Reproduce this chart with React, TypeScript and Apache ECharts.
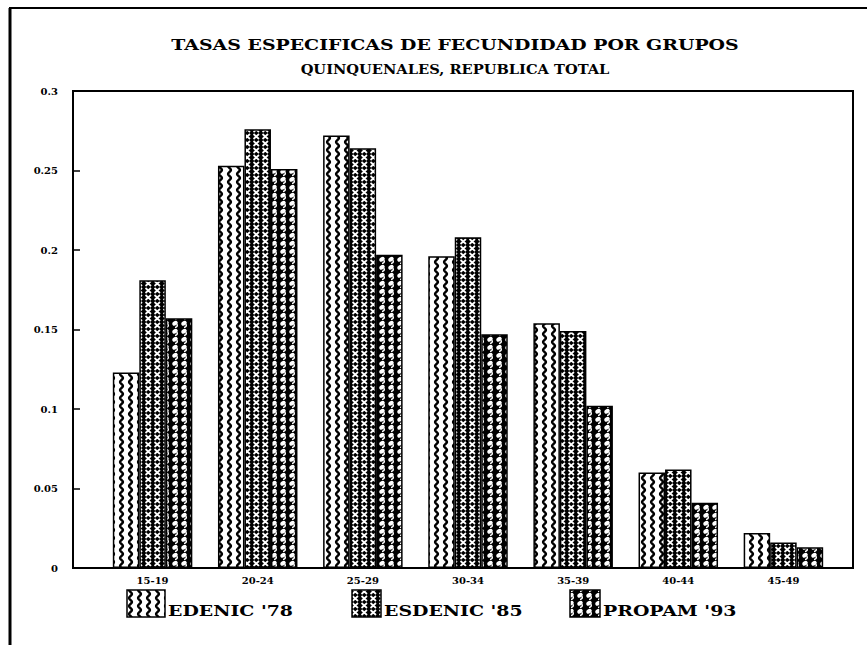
import React, { useEffect, useRef } from 'react';
import * as echarts from 'echarts';

const categories = ['15-19', '20-24', '25-29', '30-34', '35-39', '40-44', '45-49'];
const edenic78 = [0.123, 0.253, 0.272, 0.196, 0.154, 0.06, 0.022];
const esdenic85 = [0.181, 0.276, 0.264, 0.208, 0.149, 0.062, 0.016];
const propam93 = [0.157, 0.251, 0.197, 0.147, 0.102, 0.041, 0.013];
const seriesNames = ["EDENIC '78", "ESDENIC '85", "PROPAM '93"];
const titleText = 'TASAS ESPECIFICAS DE FECUNDIDAD POR GRUPOS';
const subtitleText = 'QUINQUENALES, REPUBLICA TOTAL';
const yMin = 0;
const yMax = 0.3;
const yStep = 0.05;

const FONT = '"DejaVu Serif", "Liberation Serif", serif';

function makeTile(w: number, h: number, draw: (ctx: CanvasRenderingContext2D) => void) {
  const c = document.createElement('canvas');
  c.width = w;
  c.height = h;
  const ctx = c.getContext('2d') as CanvasRenderingContext2D;
  draw(ctx);
  return { image: c, repeat: 'repeat', imageWidth: w, imageHeight: h } as any;
}

function makePatterns() {
  const wavy = makeTile(9, 8, (ctx) => {
    ctx.fillStyle = '#fff';
    ctx.fillRect(0, 0, 9, 8);
    ctx.strokeStyle = '#000';
    ctx.lineWidth = 2.4;
    ctx.beginPath();
    for (let y = -1; y <= 9; y += 0.5) {
      const x = 4.5 + 1.4 * Math.sin((2 * Math.PI * y) / 8);
      if (y === -1) ctx.moveTo(x, y);
      else ctx.lineTo(x, y);
    }
    ctx.stroke();
  });
  const crosses = makeTile(9, 7, (ctx) => {
    ctx.fillStyle = '#000';
    ctx.fillRect(0, 0, 9, 7);
    ctx.strokeStyle = '#fff';
    ctx.lineWidth = 1.7;
    ctx.beginPath();
    ctx.moveTo(1.5, 1);
    ctx.lineTo(7, 6);
    ctx.moveTo(7, 1);
    ctx.lineTo(1.5, 6);
    ctx.stroke();
  });
  const blobs = makeTile(9, 8, (ctx) => {
    ctx.fillStyle = '#000';
    ctx.fillRect(0, 0, 9, 8);
    ctx.fillStyle = '#fff';
    ctx.beginPath();
    ctx.ellipse(4, 3.3, 2.9, 2.1, -0.6, 0, Math.PI * 2);
    ctx.fill();
    ctx.strokeStyle = '#fff';
    ctx.lineWidth = 1.5;
    ctx.beginPath();
    ctx.moveTo(6, 4.3);
    ctx.quadraticCurveTo(7, 7, 4, 7.4);
    ctx.stroke();
  });
  return [wavy, crosses, blobs];
}

export default function App() {
  const ref = useRef<HTMLDivElement>(null);

  useEffect(() => {
    if (!ref.current) return;
    const chart = echarts.init(ref.current, null, { renderer: 'svg' });
    const patterns = makePatterns();
    const seriesData = [edenic78, esdenic85, propam93];

    const legendX = [127, 352, 570];
    const legendW = [38, 29, 30];
    const legendGraphics: any[] = [];
    seriesNames.forEach((name, i) => {
      legendGraphics.push({
        type: 'rect',
        shape: { x: legendX[i], y: 590, width: legendW[i], height: 27 },
        style: { fill: patterns[i], stroke: '#000', lineWidth: 1.5 },
      });
      legendGraphics.push({
        type: 'text',
        x: legendX[i] + legendW[i] + 3,
        y: 611,
        scaleX: 1.35,
        style: {
          text: name,
          font: `bold 14px ${FONT}`,
          fill: '#000',
          textAlign: 'left',
          textVerticalAlign: 'middle',
          align: 'left',
          verticalAlign: 'middle',
        },
      });
    });

    chart.setOption({
      animation: false,
      backgroundColor: '#fff',
      grid: [
        { left: 73, right: 14, top: 91, bottom: 77, show: true, borderColor: '#000', borderWidth: 2, backgroundColor: 'transparent' },
        { left: 100, right: 31, top: 91, bottom: 77 },
      ],
      xAxis: [
        { type: 'category', gridIndex: 0, data: categories, show: false },
        {
          type: 'category',
          gridIndex: 1,
          data: categories,
          axisLine: { show: false },
          axisTick: { show: false },
          axisLabel: { margin: 7, color: '#000', fontFamily: FONT, fontWeight: 'bold', fontSize: 10 },
        },
      ],
      yAxis: [
        {
          type: 'value',
          gridIndex: 0,
          min: yMin,
          max: yMax,
          interval: yStep,
          axisLine: { show: true, lineStyle: { color: '#000', width: 2 } },
          axisTick: { show: true, inside: true, length: 7, lineStyle: { color: '#000', width: 1.5 } },
          splitLine: { show: false },
          axisLabel: {
            margin: 15,
            color: '#000',
            fontFamily: FONT,
            fontWeight: 'bold',
            fontSize: 10,
            formatter: (v: number) => String(+v.toFixed(2)),
          },
        },
        { type: 'value', gridIndex: 1, min: yMin, max: yMax, show: false },
      ],
      series: seriesNames.map((name, i) => ({
        type: 'bar',
        name,
        xAxisIndex: 1,
        yAxisIndex: 1,
        data: seriesData[i],
        barWidth: 26.5,
        barGap: '0%',
        itemStyle: { color: patterns[i], borderColor: '#000', borderWidth: 1.5 },
      })),
      graphic: [
        { type: 'line', shape: { x1: 9, y1: 8, x2: 867, y2: 8 }, style: { stroke: '#000', lineWidth: 2 } },
        { type: 'line', shape: { x1: 10, y1: 8, x2: 10, y2: 645 }, style: { stroke: '#000', lineWidth: 3 } },
        {
          type: 'text',
          x: 455,
          y: 45,
          scaleX: 1.26,
          style: {
            text: titleText,
            font: `bold 15px ${FONT}`,
            fill: '#000',
            textAlign: 'center',
            textVerticalAlign: 'middle',
            align: 'center',
            verticalAlign: 'middle',
          },
        },
        {
          type: 'text',
          x: 455,
          y: 70,
          scaleX: 1.22,
          style: {
            text: subtitleText,
            font: `bold 12px ${FONT}`,
            fill: '#000',
            textAlign: 'center',
            textVerticalAlign: 'middle',
            align: 'center',
            verticalAlign: 'middle',
          },
        },
        ...legendGraphics,
      ],
    });

    return () => chart.dispose();
  }, []);

  return <div ref={ref} style={{ position: 'fixed', left: 0, top: 0, width: 867, height: 645, background: '#fff' }} />;
}
